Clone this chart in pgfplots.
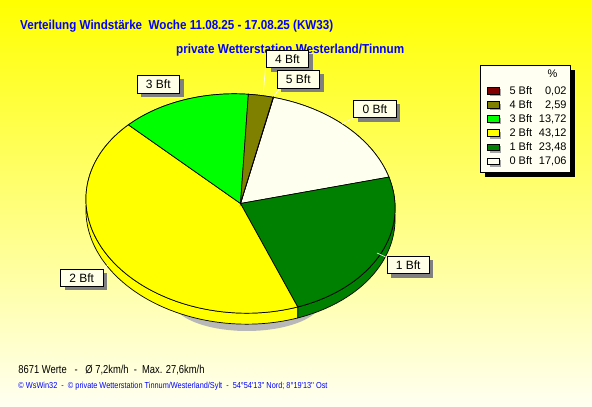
\documentclass[border=0pt]{standalone}
\usepackage{fontspec}
\setmainfont{Liberation Sans}
\newfontfamily\footfont{Liberation Sans}
\usepackage{pgfplots}
\pgfplotsset{compat=1.18}
\usepackage{pgfplotstable}

\definecolor{bft0}{RGB}{255,255,240}
\definecolor{bft1}{RGB}{0,128,0}
\definecolor{bft2}{RGB}{255,255,0}
\definecolor{bft3}{RGB}{0,255,0}
\definecolor{bft4}{RGB}{128,128,0}
\definecolor{bft5}{RGB}{128,0,0}
\definecolor{titleblue}{RGB}{0,0,255}
\definecolor{labelfill}{RGB}{255,255,232}
\definecolor{legfill}{RGB}{255,255,242}

% Anteile in Prozent, im Uhrzeigersinn ab 0 Bft
\pgfplotstableread{
bft pct
0 17.06
1 23.48
2 43.12
3 13.72
4 2.59
5 0.02
}\windtable

% Tortengeometrie in Pixeln
\def\cx{240.5}
\def\cy{203.5}
\def\rx{154.7}
\def\ry{109.5}
\def\depth{11}
\def\startangle{80}
\pgfmathsetmacro\tcos{cos(3.3)}
\pgfmathsetmacro\tsin{sin(3.3)}

\begin{document}
\begin{tikzpicture}
\begin{axis}[
  scale only axis, width=592bp, height=407bp,
  xmin=0, xmax=592, ymin=0, ymax=407, y dir=reverse,
  hide axis,
  axis background/.style={shade, top color=bft2,
    bottom color={rgb,255:red,255;green,255;blue,242}},
]

% Schatten unter der Torte
\addplot[fill=black!28, draw=none, domain=0:360, samples=90]
  ({247+75*cos(x)},{300+31*sin(x)});

% Seitenflaechen
\def\ta{\startangle}
\pgfplotsforeachungrouped \i in {0,...,5}{%
  \pgfplotstablegetelem{\i}{pct}\of\windtable
  \pgfmathsetmacro\tb{\ta-3.6*\pgfplotsretval}%
  \edef\doside{\noexpand\addplot[draw=black, line width=0.7bp, fill=bft\i,
      domain=0:3, samples=241]
    ({\cx+\rx*cos(\ta+(min(x,1)-max(x-2,0))*(\tb-\ta))*\tcos
         +\ry*sin(\ta+(min(x,1)-max(x-2,0))*(\tb-\ta))*\tsin},
     {\cy+\rx*cos(\ta+(min(x,1)-max(x-2,0))*(\tb-\ta))*\tsin
         -\ry*sin(\ta+(min(x,1)-max(x-2,0))*(\tb-\ta))*\tcos
         +\depth*min(max(x-1,0),1)}) -- cycle;}%
  \doside
  \global\let\ta\tb
}

% Deckflaechen
\def\ta{\startangle}
\pgfplotsforeachungrouped \i in {0,...,5}{%
  \pgfplotstablegetelem{\i}{pct}\of\windtable
  \pgfmathsetmacro\tb{\ta-3.6*\pgfplotsretval}%
  \edef\dotop{\noexpand\addplot[draw=black, line width=0.7bp, fill=bft\i,
      domain=\tb:\ta, samples=100]
    ({\cx+\rx*cos(x)*\tcos+\ry*sin(x)*\tsin},
     {\cy+\rx*cos(x)*\tsin-\ry*sin(x)*\tcos}) -- (axis cs:\cx,\cy) -- cycle;}%
  \dotop
  \global\let\ta\tb
}
\end{axis}

% Texte, Legende und Beschriftungen in Pixelkoordinaten (y nach unten)
\begin{scope}[x=1bp, y=-1bp, shift={(0bp,407bp)}]
% Titel
\node[anchor=base west, inner sep=0, text=titleblue,
  font=\fontsize{13bp}{15bp}\selectfont\bfseries] at (20,29.3)
  {\resizebox{313bp}{\height}{Verteilung Windstärke\ \ Woche 11.08.25 - 17.08.25 (KW33)}};
\node[anchor=base west, inner sep=0, text=titleblue,
  font=\fontsize{13bp}{15bp}\selectfont\bfseries] at (176,54)
  {\resizebox{228bp}{\height}{private Wetterstation Westerland/Tinnum}};

% Fusszeilen
\node[anchor=base west, inner sep=0, font=\fontsize{11.5bp}{13bp}\selectfont]
  at (18.3,373.3)
  {\resizebox{186bp}{\height}{8671 Werte\ \ \ -\ \ \ Ø 7,2km/h\ \ -\ \ Max. 27,6km/h}};
\node[anchor=base west, inner sep=0, text=titleblue,
  font=\footfont\fontsize{8.7bp}{10bp}\selectfont] at (18.3,389)
  {\resizebox{309bp}{\height}{© WsWin32\ \ -\ \ © private Wetterstation Tinnum/Westerland/Sylt\ \ -\ \ 54°54'13'' Nord; 8°19'13'' Ost}};

% Legende
\fill[black] (485,70) rectangle (575,177);
\filldraw[fill=legfill, draw=black, line width=0.7bp] (480,65) rectangle (570,172);
\node[anchor=base, inner sep=0, font=\fontsize{11bp}{13bp}\selectfont]
  at (552.5,78) {\%};
\foreach \k/\lab/\val [count=\r from 0] in
  {5/5 Bft/{0,02}, 4/4 Bft/{2,59}, 3/3 Bft/{13,72}, 2/2 Bft/{43,12}, 1/1 Bft/{23,48}, 0/0 Bft/{17,06}}{
  \pgfmathsetmacro\yb{94.3+14.14*\r}
  \fill[black!35] (489.5,\yb-4.8) rectangle (501.2,\yb+1.9);
  \filldraw[fill=bft\k, draw=black, line width=0.7bp]
    (487.3,\yb-7) rectangle (499,\yb-0.3);
  \node[anchor=base west, inner sep=0, font=\fontsize{11bp}{13bp}\selectfont]
    at (509.3,\yb) {\lab};
  \node[anchor=base east, inner sep=0, font=\fontsize{11bp}{13bp}\selectfont]
    at (566.7,\yb) {\val};
}

% Beschriftungslinien
\draw[white, line width=0.6bp] (263.3,92) -- (265.5,68);
\draw[white, line width=0.6bp] (274,96) -- (280,88);
\draw[white, line width=0.6bp] (342,124) -- (355,117);
\draw[white, line width=0.6bp] (377,253) -- (388,258);
\draw[white, line width=0.6bp] (101,271) -- (108,265);

% Beschriftungen
\foreach \px/\py/\lab in {287.5/59/4 Bft, 298.3/79.5/5 Bft, 375/109/0 Bft,
  158.3/84.2/3 Bft, 81.7/277.8/2 Bft, 408.2/265/1 Bft}{
  \fill[black!50] (\px-17,\py-5) rectangle (\px+25.2,\py+12.7);
  \node[draw=black, line width=0.7bp, fill=labelfill, inner sep=0,
    minimum width=42.5bp, minimum height=17.5bp,
    font=\fontsize{12bp}{14bp}\selectfont] at (\px,\py) {\lab};
}
\end{scope}
\end{tikzpicture}
\end{document}
